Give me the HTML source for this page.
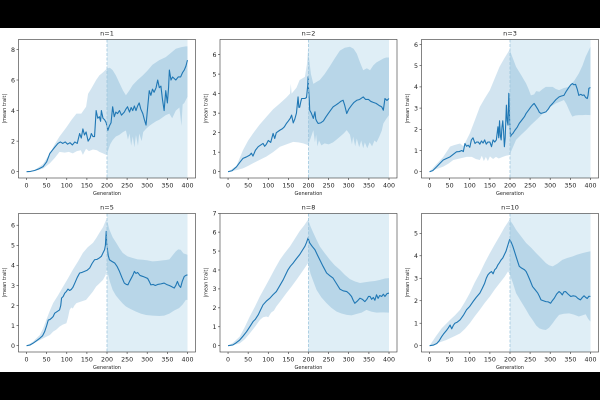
<!DOCTYPE html>
<html><head><meta charset="utf-8"><style>
html,body{margin:0;padding:0;background:#fff;}
svg{display:block;}
text{font-family:"DejaVu Sans","Liberation Sans",sans-serif;fill:#222;}
.tk{font-size:6.3px;}
.ti{font-size:6.5px;}
.lb{font-size:5px;}
.fr{fill:none;stroke:#333;stroke-width:0.6;}
.tl{stroke:#333;stroke-width:0.6;}
.ml{fill:none;stroke:#1f77b4;stroke-width:1.1;stroke-linejoin:round;vector-effect:non-scaling-stroke;}
.bd{fill:#1f77b4;fill-opacity:0.2;fill-rule:evenodd;stroke:none;}
.sp{fill:#dfeef6;}
.vl{stroke:#9fc6de;stroke-width:0.8;stroke-dasharray:3 1.5;}
</style></head><body>
<svg width="600" height="400" viewBox="0 0 600 400" xmlns="http://www.w3.org/2000/svg">
<rect x="0" y="0" width="600" height="400" fill="#fff"/>
<rect x="0" y="0" width="600" height="28" fill="#000"/>
<rect x="0" y="372" width="600" height="28" fill="#000"/>

<!-- Panel 1 n=1 -->
<g transform="translate(18.5,39.5)">
<rect class="sp" x="88.5" y="0" width="80.5" height="138.5"/>
<g transform="matrix(0.4023,0,0,-15.28,8.05,132.2)">
<path class="bd" d="M0,-1 L0,0 20,0.1 41,0.5 58,1.2 70,1.8 82,2.3 99,2.9 112,3.4 124,3.8 136,3.8 148,4.25 153,5.1 160,5.4 173,6.0 181,6.3 190,6.5 200,6.75 207,6.8 214,6.65 222,6.3 231,5.8 240,5.3 247,5.0 255,5.3 264,5.67 276,6.0 289,6.3 300,6.6 313,7.0 330,7.3 346,7.5 360,7.8 371,8.05 385,8.15 396,8.2 400,8.2 400,-1 Z M0,-1 L0,0 20,0.05 41,0.2 58,0.55 70,0.9 82,1.3 95,1.25 105,1.3 115,1.2 125,1.35 135,1.4 140,1.1 148,1.5 155,1.35 165,1.45 175,1.4 181,1.3 190,1.2 198,1.1 203,1.4 208,1.8 214,2.07 222,2.3 230,2.4 240,2.6 247,2.7 252,2.1 256,2.5 260,1.7 264,2.3 268,1.6 272,2.4 277,1.7 280,2.5 286,2.0 290,2.6 297,2.8 305,3.0 313,3.15 322,3.3 330,3.4 346,3.7 355,3.8 362,3.5 371,4.0 380,4.2 385,3.0 388,4.4 392,4.5 396,4.7 400,4.9 400,-1 Z"/>
<polyline class="ml" points="0,0 10,0.02 20,0.08 30,0.18 41,0.33 50,0.65 58,1.2 64,1.4 70,1.6 78,1.85 84,1.95 90,1.85 96,1.95 102,1.8 108,1.9 114,1.75 120,1.95 126,1.85 132,2.5 136,2.2 140,2.8 144,2.4 148,2.6 153,2.0 158,2.2 161,2.5 165,2.3 169,2.3 173,4.0 177,3.5 181,3.6 184,3.3 186,4.0 190,3.5 194,3.4 198,3.2 202,2.7 206,3.0 210,3.2 214,4.25 218,3.6 222,3.9 226,3.8 231,4.0 236,3.7 243,3.9 247,4.1 251,4.25 256,3.9 260,4.2 264,4.0 268,4.3 272,4.0 276,4.3 280,4.5 284,4.1 289,3.8 293,3.4 297,3.05 301,4.2 305,5.3 309,5.0 313,5.4 317,5.2 322,5.5 326,6.0 330,5.5 334,5.6 338,4.7 342,4.0 346,5.3 350,4.5 353,5.5 355,6.65 359,6.0 363,6.2 367,6.1 371,6.0 377,6.2 383,6.2 388,6.5 392,6.65 396,6.9 398,7.1 400,7.3"/>
</g>
<line class="vl" x1="88.5" y1="0" x2="88.5" y2="138.5"/>
<rect class="fr" x="0" y="0" width="177" height="138.5"/>
<g class="tl"><line x1="-2" y1="132.2" x2="0" y2="132.2"/><line x1="-2" y1="101.64" x2="0" y2="101.64"/><line x1="-2" y1="71.08" x2="0" y2="71.08"/><line x1="-2" y1="40.52" x2="0" y2="40.52"/><line x1="-2" y1="9.96" x2="0" y2="9.96"/></g>
<g class="tk" text-anchor="end"><text x="-3.5" y="134.5">0</text><text x="-3.5" y="103.9">2</text><text x="-3.5" y="73.4">4</text><text x="-3.5" y="42.8">6</text><text x="-3.5" y="12.3">8</text></g>
<g class="tl"><line x1="8.05" y1="138.5" x2="8.05" y2="140.5"/><line x1="28.16" y1="138.5" x2="28.16" y2="140.5"/><line x1="48.28" y1="138.5" x2="48.28" y2="140.5"/><line x1="68.4" y1="138.5" x2="68.4" y2="140.5"/><line x1="88.5" y1="138.5" x2="88.5" y2="140.5"/><line x1="108.6" y1="138.5" x2="108.6" y2="140.5"/><line x1="128.7" y1="138.5" x2="128.7" y2="140.5"/><line x1="148.9" y1="138.5" x2="148.9" y2="140.5"/><line x1="169" y1="138.5" x2="169" y2="140.5"/></g>
<g class="tk" text-anchor="middle"><text x="8.05" y="147.8">0</text><text x="28.16" y="147.8">50</text><text x="48.28" y="147.8">100</text><text x="68.4" y="147.8">150</text><text x="88.5" y="147.8">200</text><text x="108.6" y="147.8">250</text><text x="128.7" y="147.8">300</text><text x="148.9" y="147.8">350</text><text x="169" y="147.8">400</text></g>
<text class="ti" x="88.5" y="-3.9" text-anchor="middle">n=1</text>
<text class="lb" x="88.5" y="155.6" text-anchor="middle">Generation</text>
<text class="lb" transform="translate(-12.3,69.25) rotate(-90)" text-anchor="middle">|mean trait|</text>
</g>

<!-- Panel 2 n=2 -->
<g transform="translate(220,39.5)">
<rect class="sp" x="88.5" y="0" width="80.5" height="138.5"/>
<g transform="matrix(0.4023,0,0,-19.52,8.05,132.2)">
<path class="bd" d="M0,-1 L0,0 21,0.3 37,1.1 50,1.6 62,1.96 78,2.4 95,2.8 112,3.2 129,3.5 145,3.8 154,4.0 156,4.5 158,4.0 170,4.3 178,4.7 191,4.86 196,5.5 199,6.3 202,5.7 206,5.0 212,4.5 220,4.6 228,4.7 240,5.0 253,5.4 265,5.8 278,6.2 290,6.35 303,6.4 312,6.3 320,6.05 328,5.6 336,5.2 345,5.3 353,5.2 361,5.45 369,5.6 378,5.7 386,5.8 393,5.85 400,5.85 400,-1 Z M0,-1 L0,0 21,0.08 37,0.17 50,0.3 62,0.43 78,0.6 95,0.77 112,1.0 129,1.28 145,1.4 162,1.53 175,1.5 187,1.45 199,1.36 205,1.7 212,2.13 216,1.5 219,1.9 222,1.3 226,1.6 232,1.35 240,1.45 250,1.4 261,1.5 270,1.65 278,1.79 287,1.95 295,2.13 303,1.9 308,1.4 311,1.8 316,1.3 320,1.7 326,1.25 331,1.6 336,1.2 340,1.5 346,1.2 352,1.5 358,1.3 364,1.6 369,1.5 376,1.8 382,2.1 386,2.47 393,2.7 400,2.9 400,-1 Z"/>
<polyline class="ml" points="0,0 10,0.05 21,0.25 30,0.5 37,0.68 45,0.75 54,0.85 58,0.95 62,0.8 68,1.1 75,1.28 80,1.35 87,1.45 91,1.3 95,1.4 100,1.6 106,1.5 112,1.96 116,1.7 120,2.0 129,2.13 135,2.2 140,2.3 145,2.47 150,2.6 155,2.75 158,2.9 162,2.5 166,2.7 170,3.0 174,3.83 176,3.3 178,3.3 181,3.6 183,3.75 187,3.75 191,3.75 195,3.8 198,4.4 199,4.86 200,4.3 202,3.66 203,3.15 207,3.0 212,2.73 216,3.07 218,2.7 220,2.6 224,2.47 230,2.5 237,2.6 243,2.8 249,2.98 255,3.15 261,3.32 267,3.4 274,3.5 280,3.6 286,3.66 290,3.4 295,2.98 300,3.2 307,3.4 313,3.55 320,3.66 327,3.7 336,3.83 342,3.7 349,3.7 355,3.6 361,3.55 368,3.5 375,3.4 382,3.32 386,3.15 390,3.75 395,3.65 400,3.75"/>
</g>
<line class="vl" x1="88.5" y1="0" x2="88.5" y2="138.5"/>
<rect class="fr" x="0" y="0" width="177" height="138.5"/>
<g class="tl"><line x1="-2" y1="132.2" x2="0" y2="132.2"/><line x1="-2" y1="112.68" x2="0" y2="112.68"/><line x1="-2" y1="93.16" x2="0" y2="93.16"/><line x1="-2" y1="73.64" x2="0" y2="73.64"/><line x1="-2" y1="54.12" x2="0" y2="54.12"/><line x1="-2" y1="34.6" x2="0" y2="34.6"/><line x1="-2" y1="15.08" x2="0" y2="15.08"/></g>
<g class="tk" text-anchor="end"><text x="-3.5" y="134.5">0</text><text x="-3.5" y="115">1</text><text x="-3.5" y="95.5">2</text><text x="-3.5" y="75.9">3</text><text x="-3.5" y="56.4">4</text><text x="-3.5" y="36.9">5</text><text x="-3.5" y="17.4">6</text></g>
<g class="tl"><line x1="8.05" y1="138.5" x2="8.05" y2="140.5"/><line x1="28.16" y1="138.5" x2="28.16" y2="140.5"/><line x1="48.28" y1="138.5" x2="48.28" y2="140.5"/><line x1="68.4" y1="138.5" x2="68.4" y2="140.5"/><line x1="88.5" y1="138.5" x2="88.5" y2="140.5"/><line x1="108.6" y1="138.5" x2="108.6" y2="140.5"/><line x1="128.7" y1="138.5" x2="128.7" y2="140.5"/><line x1="148.9" y1="138.5" x2="148.9" y2="140.5"/><line x1="169" y1="138.5" x2="169" y2="140.5"/></g>
<g class="tk" text-anchor="middle"><text x="8.05" y="147.8">0</text><text x="28.16" y="147.8">50</text><text x="48.28" y="147.8">100</text><text x="68.4" y="147.8">150</text><text x="88.5" y="147.8">200</text><text x="108.6" y="147.8">250</text><text x="128.7" y="147.8">300</text><text x="148.9" y="147.8">350</text><text x="169" y="147.8">400</text></g>
<text class="ti" x="88.5" y="-3.9" text-anchor="middle">n=2</text>
<text class="lb" x="88.5" y="155.6" text-anchor="middle">Generation</text>
<text class="lb" transform="translate(-12.3,69.25) rotate(-90)" text-anchor="middle">|mean trait|</text>
</g>

<!-- Panel 3 n=3 -->
<g transform="translate(421.5,39.5)">
<rect class="sp" x="88.5" y="0" width="80.5" height="138.5"/>
<g transform="matrix(0.4023,0,0,-21.2,8.05,132.2)">
<path class="bd" d="M0,-1 L0,0 17,0.35 34,0.7 51,1.18 60,1.25 70,1.3 76,1.33 84,1.2 92,1.5 100,1.8 112,2.4 125,3.06 137,3.45 150,3.85 162,4.4 174,4.95 186,5.35 199,5.75 207,5.35 215,4.95 228,4.55 240,4.16 246,3.9 252,3.6 260,3.65 265,3.8 273,3.77 281,3.9 289,4.0 297,4.0 306,4.0 314,3.9 322,3.85 334,3.95 347,4.0 360,4.3 371,4.63 380,5.0 388,5.42 395,5.7 400,5.9 400,-1 Z M0,-1 L0,0 17,0.12 34,0.24 47,0.38 59,0.55 75,0.62 92,0.7 105,0.7 115,0.6 125,0.55 130,0.75 135,0.5 140,0.7 145,0.5 150,0.72 158,0.6 165,0.7 172,0.62 182,0.7 190,0.75 199,0.79 207,1.15 215,1.5 228,1.75 240,1.96 252,2.2 265,2.43 277,2.65 289,2.9 302,3.08 314,3.22 324,3.3 334,3.38 340,3.2 347,2.9 352,2.7 355,2.6 362,2.65 371,2.67 380,2.67 388,2.68 400,2.67 400,-1 Z"/>
<polyline class="ml" points="0,0 8,0.05 18,0.24 26,0.4 34,0.55 42,0.62 51,0.7 59,0.82 67,0.94 74,0.95 80,1.0 84,0.95 88,1.33 92,1.2 96,1.25 100,1.15 104,1.5 108,1.6 113,1.33 117,1.4 121,1.4 125,1.3 129,1.45 133,1.35 137,1.5 141,1.3 145,1.4 150,1.4 154,1.18 158,1.5 162,1.4 166,1.5 170,2.12 172,1.6 174,2.4 176,1.7 178,1.5 180,2.1 182,2.4 184,1.9 186,1.18 188,1.6 191,3.14 193,2.4 195,2.2 197,3.7 199,2.5 201,1.65 204,1.75 207,1.8 212,1.95 218,2.1 223,2.28 230,2.45 236,2.6 240,2.75 246,2.9 252,3.06 256,3.15 260,3.22 264,3.1 269,2.95 273,2.8 277,2.75 283,2.78 289,2.82 295,2.95 300,3.1 306,3.22 314,3.4 322,3.53 328,3.57 334,3.6 340,3.8 347,4.0 351,4.1 355,4.16 359,4.1 363,4.12 367,3.9 371,3.6 376,3.65 380,3.6 384,3.62 388,3.5 392,3.45 394,3.6 396,3.93 400,3.97"/>
</g>
<line class="vl" x1="88.5" y1="0" x2="88.5" y2="138.5"/>
<rect class="fr" x="0" y="0" width="177" height="138.5"/>
<g class="tl"><line x1="-2" y1="132.2" x2="0" y2="132.2"/><line x1="-2" y1="111" x2="0" y2="111"/><line x1="-2" y1="89.8" x2="0" y2="89.8"/><line x1="-2" y1="68.6" x2="0" y2="68.6"/><line x1="-2" y1="47.4" x2="0" y2="47.4"/><line x1="-2" y1="26.2" x2="0" y2="26.2"/><line x1="-2" y1="5" x2="0" y2="5"/></g>
<g class="tk" text-anchor="end"><text x="-3.5" y="134.5">0</text><text x="-3.5" y="113.3">1</text><text x="-3.5" y="92.1">2</text><text x="-3.5" y="70.9">3</text><text x="-3.5" y="49.7">4</text><text x="-3.5" y="28.5">5</text><text x="-3.5" y="7.3">6</text></g>
<g class="tl"><line x1="8.05" y1="138.5" x2="8.05" y2="140.5"/><line x1="28.16" y1="138.5" x2="28.16" y2="140.5"/><line x1="48.28" y1="138.5" x2="48.28" y2="140.5"/><line x1="68.4" y1="138.5" x2="68.4" y2="140.5"/><line x1="88.5" y1="138.5" x2="88.5" y2="140.5"/><line x1="108.6" y1="138.5" x2="108.6" y2="140.5"/><line x1="128.7" y1="138.5" x2="128.7" y2="140.5"/><line x1="148.9" y1="138.5" x2="148.9" y2="140.5"/><line x1="169" y1="138.5" x2="169" y2="140.5"/></g>
<g class="tk" text-anchor="middle"><text x="8.05" y="147.8">0</text><text x="28.16" y="147.8">50</text><text x="48.28" y="147.8">100</text><text x="68.4" y="147.8">150</text><text x="88.5" y="147.8">200</text><text x="108.6" y="147.8">250</text><text x="128.7" y="147.8">300</text><text x="148.9" y="147.8">350</text><text x="169" y="147.8">400</text></g>
<text class="ti" x="88.5" y="-3.9" text-anchor="middle">n=3</text>
<text class="lb" x="88.5" y="155.6" text-anchor="middle">Generation</text>
<text class="lb" transform="translate(-12.3,69.25) rotate(-90)" text-anchor="middle">|mean trait|</text>
</g>

<!-- Panel 4 n=5 -->
<g transform="translate(18.5,213.5)">
<rect class="sp" x="88.5" y="0" width="80.5" height="138.5"/>
<g transform="matrix(0.4023,0,0,-20.08,8.05,132.2)">
<path class="bd" d="M0,-1 L0,0 16,0.2 33,0.53 41,0.85 49,1.28 57,1.7 66,2.12 78,2.5 91,2.95 103,3.35 115,3.78 128,4.2 140,4.62 152,4.9 165,5.12 173,5.35 181,5.62 190,5.9 198,6.28 202,6.1 206,5.78 214,5.4 223,5.12 231,4.85 239,4.62 251,4.45 264,4.37 276,4.3 289,4.28 301,4.25 313,4.2 326,4.22 338,4.25 347,4.27 355,4.3 363,4.5 371,4.7 377,4.8 383,4.78 390,4.6 400,4.53 400,-1 Z M0,-1 L0,0 16,0.1 33,0.28 45,0.4 58,0.53 66,0.7 74,0.8 82,0.95 90,1.05 99,1.12 103,1.4 107,1.78 111,1.9 115,1.85 119,2.0 124,2.12 136,2.2 148,2.28 157,2.5 165,2.7 173,2.95 181,3.1 190,3.28 196,3.5 200,3.78 207,3.2 214,2.78 222,2.5 231,2.28 239,2.1 247,1.95 259,1.82 272,1.7 284,1.6 297,1.53 313,1.5 330,1.48 342,1.5 355,1.6 367,1.75 379,1.87 388,2.05 396,2.28 400,2.28 400,-1 Z"/>
<polyline class="ml" points="0,0 8,0.03 16,0.12 25,0.25 33,0.37 40,0.5 45,0.7 50,1.0 54,1.28 58,1.3 62,1.37 66,1.45 70,1.62 76,1.7 82,1.78 85,2.0 87,2.37 91,2.45 95,2.62 99,2.7 103,2.82 107,2.75 111,2.8 115,2.9 120,3.12 126,3.4 132,3.62 138,3.65 144,3.7 150,3.75 157,3.87 163,4.1 169,4.28 175,4.3 181,4.37 186,4.45 190,4.62 194,4.78 196,5.0 198,5.7 199,5.2 200,4.95 203,4.5 206,4.28 212,4.2 219,4.12 225,3.95 231,3.7 237,3.4 243,3.12 248,3.05 252,3.03 256,3.2 260,3.35 264,3.5 268,3.7 272,3.6 276,3.65 282,3.5 289,3.45 295,3.4 301,3.35 305,3.2 309,3.03 315,3.05 320,3.0 326,3.05 334,3.08 342,3.12 348,3.05 355,3.0 360,2.95 367,2.87 371,3.0 375,3.2 379,3.0 383,2.9 387,3.2 392,3.45 396,3.5 400,3.53"/>
</g>
<line class="vl" x1="88.5" y1="0" x2="88.5" y2="138.5"/>
<rect class="fr" x="0" y="0" width="177" height="138.5"/>
<g class="tl"><line x1="-2" y1="132.2" x2="0" y2="132.2"/><line x1="-2" y1="112.12" x2="0" y2="112.12"/><line x1="-2" y1="92.04" x2="0" y2="92.04"/><line x1="-2" y1="71.96" x2="0" y2="71.96"/><line x1="-2" y1="51.88" x2="0" y2="51.88"/><line x1="-2" y1="31.8" x2="0" y2="31.8"/><line x1="-2" y1="11.72" x2="0" y2="11.72"/></g>
<g class="tk" text-anchor="end"><text x="-3.5" y="134.5">0</text><text x="-3.5" y="114.4">1</text><text x="-3.5" y="94.3">2</text><text x="-3.5" y="74.3">3</text><text x="-3.5" y="54.2">4</text><text x="-3.5" y="34.1">5</text><text x="-3.5" y="14">6</text></g>
<g class="tl"><line x1="8.05" y1="138.5" x2="8.05" y2="140.5"/><line x1="28.16" y1="138.5" x2="28.16" y2="140.5"/><line x1="48.28" y1="138.5" x2="48.28" y2="140.5"/><line x1="68.4" y1="138.5" x2="68.4" y2="140.5"/><line x1="88.5" y1="138.5" x2="88.5" y2="140.5"/><line x1="108.6" y1="138.5" x2="108.6" y2="140.5"/><line x1="128.7" y1="138.5" x2="128.7" y2="140.5"/><line x1="148.9" y1="138.5" x2="148.9" y2="140.5"/><line x1="169" y1="138.5" x2="169" y2="140.5"/></g>
<g class="tk" text-anchor="middle"><text x="8.05" y="147.8">0</text><text x="28.16" y="147.8">50</text><text x="48.28" y="147.8">100</text><text x="68.4" y="147.8">150</text><text x="88.5" y="147.8">200</text><text x="108.6" y="147.8">250</text><text x="128.7" y="147.8">300</text><text x="148.9" y="147.8">350</text><text x="169" y="147.8">400</text></g>
<text class="ti" x="88.5" y="-3.9" text-anchor="middle">n=5</text>
<text class="lb" x="88.5" y="155.6" text-anchor="middle">Generation</text>
<text class="lb" transform="translate(-12.3,69.25) rotate(-90)" text-anchor="middle">|mean trait|</text>
</g>

<!-- Panel 5 n=8 -->
<g transform="translate(220,213.5)">
<rect class="sp" x="88.5" y="0" width="80.5" height="138.5"/>
<g transform="matrix(0.4023,0,0,-18.93,8.05,132.2)">
<path class="bd" d="M0,-1 L0,0 12,0.15 29,0.48 42,1.0 54,1.54 67,2.07 79,2.6 92,3.1 104,3.57 116,4.05 129,4.54 141,4.9 154,5.25 166,5.65 178,6.05 189,6.35 199,6.66 205,6.3 212,5.96 220,5.6 228,5.25 240,4.9 253,4.54 265,4.25 278,4.01 290,3.75 303,3.52 315,3.4 328,3.31 340,3.35 353,3.39 365,3.42 378,3.48 390,3.55 400,3.57 400,-1 Z M0,-1 L0,0 12,0.03 29,0.12 42,0.35 54,0.65 67,1.0 79,1.36 87,1.5 95,1.54 100,1.5 107,1.75 114,1.85 120,2.07 132,2.4 145,2.78 157,3.1 170,3.48 184,3.9 199,4.37 205,3.8 212,3.4 220,2.95 232,2.55 245,2.24 257,2.0 270,1.8 282,1.7 295,1.63 307,1.6 320,1.68 332,1.75 344,1.89 356,1.8 369,1.75 385,1.76 400,1.75 400,-1 Z"/>
<polyline class="ml" points="0,0 12,0.04 20,0.15 29,0.3 37,0.5 46,0.74 54,1.0 62,1.27 68,1.4 75,1.63 81,1.9 87,2.16 95,2.35 104,2.51 112,2.7 120,2.86 128,3.15 137,3.48 143,3.75 149,4.01 155,4.2 162,4.37 170,4.6 178,4.81 185,5.05 191,5.25 195,5.45 199,5.69 201,5.55 203,5.43 209,5.25 216,5.07 222,4.8 228,4.54 236,4.2 245,3.84 253,3.7 261,3.57 269,3.3 278,2.99 286,2.9 295,2.86 301,2.75 307,2.6 311,2.4 315,2.24 321,2.35 328,2.51 334,2.45 340,2.33 345,2.45 349,2.6 353,2.6 357,2.45 361,2.55 365,2.4 369,2.69 373,2.5 377,2.65 382,2.6 386,2.72 390,2.6 395,2.75 400,2.78"/>
</g>
<line class="vl" x1="88.5" y1="0" x2="88.5" y2="138.5"/>
<rect class="fr" x="0" y="0" width="177" height="138.5"/>
<g class="tl"><line x1="-2" y1="132.2" x2="0" y2="132.2"/><line x1="-2" y1="113.27" x2="0" y2="113.27"/><line x1="-2" y1="94.34" x2="0" y2="94.34"/><line x1="-2" y1="75.41" x2="0" y2="75.41"/><line x1="-2" y1="56.48" x2="0" y2="56.48"/><line x1="-2" y1="37.55" x2="0" y2="37.55"/><line x1="-2" y1="18.62" x2="0" y2="18.62"/><line x1="-2" y1="0" x2="0" y2="0"/></g>
<g class="tk" text-anchor="end"><text x="-3.5" y="134.5">0</text><text x="-3.5" y="115.6">1</text><text x="-3.5" y="96.6">2</text><text x="-3.5" y="77.7">3</text><text x="-3.5" y="58.8">4</text><text x="-3.5" y="39.9">5</text><text x="-3.5" y="20.9">6</text><text x="-3.5" y="2.1">7</text></g>
<g class="tl"><line x1="8.05" y1="138.5" x2="8.05" y2="140.5"/><line x1="28.16" y1="138.5" x2="28.16" y2="140.5"/><line x1="48.28" y1="138.5" x2="48.28" y2="140.5"/><line x1="68.4" y1="138.5" x2="68.4" y2="140.5"/><line x1="88.5" y1="138.5" x2="88.5" y2="140.5"/><line x1="108.6" y1="138.5" x2="108.6" y2="140.5"/><line x1="128.7" y1="138.5" x2="128.7" y2="140.5"/><line x1="148.9" y1="138.5" x2="148.9" y2="140.5"/><line x1="169" y1="138.5" x2="169" y2="140.5"/></g>
<g class="tk" text-anchor="middle"><text x="8.05" y="147.8">0</text><text x="28.16" y="147.8">50</text><text x="48.28" y="147.8">100</text><text x="68.4" y="147.8">150</text><text x="88.5" y="147.8">200</text><text x="108.6" y="147.8">250</text><text x="128.7" y="147.8">300</text><text x="148.9" y="147.8">350</text><text x="169" y="147.8">400</text></g>
<text class="ti" x="88.5" y="-3.9" text-anchor="middle">n=8</text>
<text class="lb" x="88.5" y="155.6" text-anchor="middle">Generation</text>
<text class="lb" transform="translate(-12.3,69.25) rotate(-90)" text-anchor="middle">|mean trait|</text>
</g>

<!-- Panel 6 n=10 -->
<g transform="translate(421.5,213.5)">
<rect class="sp" x="88.5" y="0" width="80.5" height="138.5"/>
<g transform="matrix(0.4023,0,0,-22.48,8.05,132.2)">
<path class="bd" d="M0,-1 L0,0 15,0.4 30,0.77 51,1.15 63,1.35 76,1.6 88,1.95 100,2.34 112,2.8 125,3.23 137,3.68 150,4.12 162,4.5 174,4.87 186,5.25 199,5.61 207,5.4 215,5.16 228,4.85 240,4.57 253,4.35 265,4.12 277,3.9 289,3.68 297,3.58 306,3.53 318,3.65 330,3.82 342,3.9 355,3.97 367,4.05 380,4.12 390,4.16 400,4.2 400,-1 Z M0,-1 L0,0 15,0.08 30,0.18 41,0.25 51,0.33 63,0.43 76,0.55 88,0.75 100,1.0 112,1.3 125,1.6 137,1.9 150,2.19 162,2.5 174,2.78 186,3.05 195,3.3 199,3.2 207,2.8 215,2.34 228,1.95 240,1.6 248,1.35 256,1.15 265,0.9 273,0.77 281,0.72 289,0.7 297,0.8 306,1.0 314,1.2 322,1.37 334,1.42 347,1.44 359,1.38 371,1.3 380,1.35 388,1.4 394,1.2 400,1.07 400,-1 Z"/>
<polyline class="ml" points="0,0 10,0.03 18,0.1 24,0.22 30,0.4 36,0.55 43,0.7 47,0.8 51,0.92 55,0.75 59,0.9 63,1.0 69,1.05 76,1.15 84,1.35 92,1.6 100,1.75 108,1.96 116,2.15 125,2.34 131,2.55 137,2.78 141,3.0 145,3.15 150,3.25 154,3.3 158,3.2 162,3.38 166,3.45 170,3.6 174,3.7 178,3.82 182,3.9 186,4.05 190,4.2 195,4.49 199,4.72 203,4.6 207,4.42 211,4.2 215,3.97 219,3.75 223,3.53 229,3.45 236,3.38 240,3.3 244,3.15 250,2.9 256,2.63 262,2.5 269,2.34 273,2.2 277,2.04 283,2.0 289,1.96 295,1.95 301,1.89 305,2.0 310,2.11 316,2.3 322,2.41 326,2.35 330,2.26 334,2.4 338,2.41 344,2.3 351,2.19 357,2.22 363,2.2 369,2.1 375,2.04 380,2.15 384,2.22 388,2.15 392,2.1 396,2.2 400,2.19"/>
</g>
<line class="vl" x1="88.5" y1="0" x2="88.5" y2="138.5"/>
<rect class="fr" x="0" y="0" width="177" height="138.5"/>
<g class="tl"><line x1="-2" y1="132.2" x2="0" y2="132.2"/><line x1="-2" y1="109.72" x2="0" y2="109.72"/><line x1="-2" y1="87.24" x2="0" y2="87.24"/><line x1="-2" y1="64.76" x2="0" y2="64.76"/><line x1="-2" y1="42.28" x2="0" y2="42.28"/><line x1="-2" y1="19.8" x2="0" y2="19.8"/></g>
<g class="tk" text-anchor="end"><text x="-3.5" y="134.5">0</text><text x="-3.5" y="112">1</text><text x="-3.5" y="89.5">2</text><text x="-3.5" y="67.1">3</text><text x="-3.5" y="44.6">4</text><text x="-3.5" y="22.1">5</text></g>
<g class="tl"><line x1="8.05" y1="138.5" x2="8.05" y2="140.5"/><line x1="28.16" y1="138.5" x2="28.16" y2="140.5"/><line x1="48.28" y1="138.5" x2="48.28" y2="140.5"/><line x1="68.4" y1="138.5" x2="68.4" y2="140.5"/><line x1="88.5" y1="138.5" x2="88.5" y2="140.5"/><line x1="108.6" y1="138.5" x2="108.6" y2="140.5"/><line x1="128.7" y1="138.5" x2="128.7" y2="140.5"/><line x1="148.9" y1="138.5" x2="148.9" y2="140.5"/><line x1="169" y1="138.5" x2="169" y2="140.5"/></g>
<g class="tk" text-anchor="middle"><text x="8.05" y="147.8">0</text><text x="28.16" y="147.8">50</text><text x="48.28" y="147.8">100</text><text x="68.4" y="147.8">150</text><text x="88.5" y="147.8">200</text><text x="108.6" y="147.8">250</text><text x="128.7" y="147.8">300</text><text x="148.9" y="147.8">350</text><text x="169" y="147.8">400</text></g>
<text class="ti" x="88.5" y="-3.9" text-anchor="middle">n=10</text>
<text class="lb" x="88.5" y="155.6" text-anchor="middle">Generation</text>
<text class="lb" transform="translate(-12.3,69.25) rotate(-90)" text-anchor="middle">|mean trait|</text>
</g>
</svg>
</body></html>
